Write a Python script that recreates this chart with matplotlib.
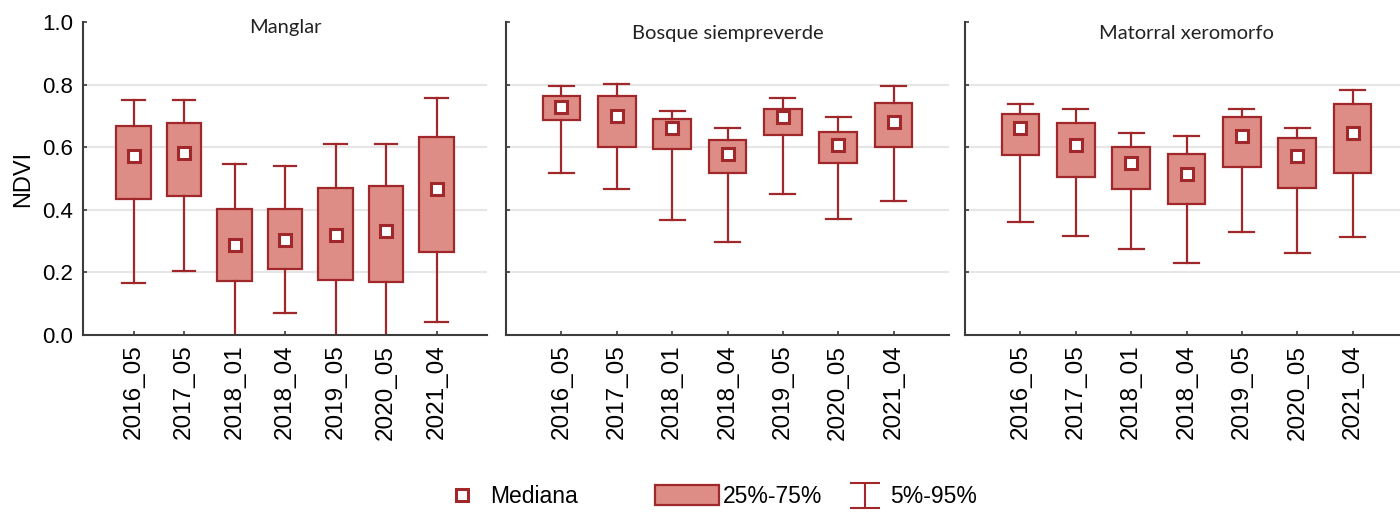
from matplotlib import pyplot as plt
from matplotlib.patches import Patch
from matplotlib.lines import Line2D
from matplotlib.container import ErrorbarContainer
from matplotlib.legend_handler import HandlerErrorbar
import numpy as np

labels = ['2016_05', '2017_05', '2018_01', '2018_04', '2019_05', '2020_05', '2021_04']
titles = ['Manglar', 'Bosque siempreverde', 'Matorral xeromorfo']

# Manglar
man_p5 = [0.165, 0.203, -0.02, 0.070, -0.02, -0.02, 0.042]
man_q1 = [0.433, 0.444, 0.171, 0.211, 0.176, 0.170, 0.266]
man_med = [0.572, 0.583, 0.289, 0.303, 0.321, 0.332, 0.465]
man_q3 = [0.668, 0.678, 0.403, 0.404, 0.471, 0.476, 0.634]
man_p95 = [0.752, 0.752, 0.545, 0.539, 0.610, 0.610, 0.757]

# Bosque siempreverde
bos_p5 = [0.518, 0.466, 0.367, 0.298, 0.449, 0.371, 0.428]
bos_q1 = [0.688, 0.601, 0.594, 0.517, 0.640, 0.551, 0.601]
bos_med = [0.729, 0.700, 0.660, 0.578, 0.695, 0.606, 0.679]
bos_q3 = [0.763, 0.763, 0.690, 0.622, 0.723, 0.649, 0.740]
bos_p95 = [0.795, 0.801, 0.717, 0.662, 0.756, 0.695, 0.795]

# Matorral xeromorfo
mat_p5 = [0.362, 0.317, 0.274, 0.230, 0.328, 0.262, 0.312]
mat_q1 = [0.575, 0.504, 0.465, 0.417, 0.537, 0.470, 0.519]
mat_med = [0.662, 0.608, 0.548, 0.514, 0.636, 0.572, 0.645]
mat_q3 = [0.705, 0.678, 0.601, 0.579, 0.695, 0.630, 0.739]
mat_p95 = [0.739, 0.722, 0.644, 0.635, 0.722, 0.662, 0.782]

panels = [
    (man_p5, man_q1, man_med, man_q3, man_p95),
    (bos_p5, bos_q1, bos_med, bos_q3, bos_p95),
    (mat_p5, mat_q1, mat_med, mat_q3, mat_p95),
]

face = '#DE8C86'
edge = '#A0282B'
spine_col = '#3C3C3C'

plt.rcParams['font.family'] = ['Liberation Sans', 'DejaVu Sans']

fig = plt.figure(figsize=(14, 5.12), dpi=100)

# axes rectangles in figure fraction (left, bottom, width, height)
bottom = 1 - 335 / 512
height = (335 - 22) / 512
rects = [
    (83 / 1400, bottom, (487 - 83) / 1400, height),
    (506 / 1400, bottom, (949 - 506) / 1400, height),
    (965 / 1400, bottom, (1408 - 965) / 1400, height),
]
title_y = [0.982, 0.962, 0.962]

pos = np.arange(len(labels))

for i in range(3):
    ax = fig.add_axes(rects[i])
    p5, q1, med, q3, p95 = panels[i]

    stats = []
    for j in range(len(labels)):
        stats.append({'whislo': p5[j], 'q1': q1[j], 'med': med[j],
                      'q3': q3[j], 'whishi': p95[j], 'fliers': []})

    ax.bxp(stats, positions=pos, widths=0.68, capwidths=0.45,
           patch_artist=True, showfliers=False,
           boxprops=dict(facecolor=face, edgecolor=edge, linewidth=1.6),
           whiskerprops=dict(color=edge, linewidth=1.6),
           capprops=dict(color=edge, linewidth=1.6),
           medianprops=dict(linewidth=0))

    ax.plot(pos, med, 's', ms=8, mfc='white', mec=edge, mew=2.2, zorder=4)

    ax.set_xlim(-1, 7)
    ax.set_ylim(0, 1.0)
    ax.set_yticks([0.0, 0.2, 0.4, 0.6, 0.8, 1.0])
    ax.set_xticks(pos)
    ax.set_xticklabels(labels, rotation=90, fontsize=17.5)

    for y in [0.2, 0.4, 0.6, 0.8]:
        ax.axhline(y, color='#E6E6E6', linewidth=1.5, zorder=0)

    ax.spines['top'].set_visible(False)
    ax.spines['right'].set_visible(False)
    ax.spines['left'].set_color(spine_col)
    ax.spines['bottom'].set_color(spine_col)
    ax.spines['left'].set_linewidth(1.5)
    ax.spines['bottom'].set_linewidth(1.5)
    ax.tick_params(direction='in', length=3, width=1.2, color=spine_col)
    ax.tick_params(axis='x', pad=7)

    if i == 0:
        ax.set_yticklabels(['0.0', '0.2', '0.4', '0.6', '0.8', '1.0'], fontsize=16)
        ax.tick_params(axis='y', pad=7)
        ax.set_ylabel('NDVI', fontsize=17, labelpad=6)
    else:
        ax.set_yticklabels([])
    ax.text(0.5, title_y[i], titles[i], transform=ax.transAxes, ha='center', va='center',
            fontsize=14.5, family=['Lato', 'DejaVu Sans'], color='#222222')

# legend: three separate entries so each sits where it does in the figure
eb = ax.errorbar([np.nan], [np.nan], yerr=[0.1], fmt='none', ecolor=edge,
                 elinewidth=1.5, capsize=11, capthick=1.5)

leg_y = 0.03
l1 = fig.legend([Line2D([], [], linestyle='none', marker='s', ms=8, mfc='white',
                        mec=edge, mew=2.2)], ['Mediana'],
                loc='center left', bbox_to_anchor=(451 / 1400, leg_y), frameon=False,
                fontsize=16.5, borderpad=0, borderaxespad=0, handlelength=1.0,
                handletextpad=0.7)
l2 = fig.legend([Patch(facecolor=face, edgecolor=edge, linewidth=1.6)], ['25%-75%'],
                loc='center left', bbox_to_anchor=(655 / 1400, leg_y), frameon=False,
                fontsize=16.5, borderpad=0, borderaxespad=0, handlelength=2.8,
                handleheight=0.95, handletextpad=0.18)
l3 = fig.legend([eb], ['5%-95%'], loc='center left', bbox_to_anchor=(848 / 1400, leg_y),
                frameon=False, fontsize=16.5, borderpad=0, borderaxespad=0,
                handlelength=1.45, handletextpad=0.4,
                handler_map={ErrorbarContainer: HandlerErrorbar(yerr_size=0.55)})

fig.savefig('out.png', dpi=100)
